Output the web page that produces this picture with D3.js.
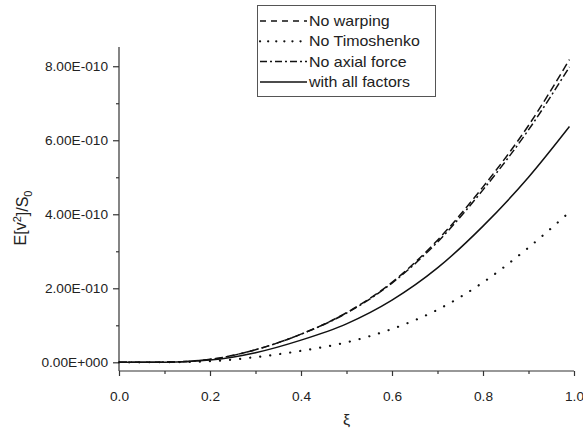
<!DOCTYPE html>
<html>
<head>
<meta charset="utf-8">
<script src="https://cdn.jsdelivr.net/npm/d3@7"></script>
<style>
  body { margin: 0; background: #fff; }
  svg { display: block; font-family: "Liberation Sans", Arial, sans-serif; }
</style>
</head>
<body>
<svg id="chart" width="583" height="438"></svg>
<script>
// ---- data (values in units of 1e-10) ----
const xi = [0, 0.1, 0.2, 0.3, 0.4, 0.5, 0.6, 0.7, 0.8, 0.9, 0.99];
const noWarping     = [0, 0.005, 0.08, 0.34, 0.76, 1.34, 2.16, 3.30, 4.74, 6.40, 8.18];
const noTimoshenko  = [0, 0.002, 0.03, 0.14, 0.31, 0.54, 0.90, 1.42, 2.16, 3.10, 4.06];
const noAxialForce  = [0, 0.005, 0.08, 0.34, 0.76, 1.33, 2.14, 3.25, 4.66, 6.28, 7.98];
const withAll       = [0, 0.004, 0.06, 0.26, 0.60, 1.04, 1.68, 2.55, 3.68, 5.00, 6.37];
const seriesNames   = ["No warping", "No Timoshenko", "No axial force", "with all factors"];
const xTicks        = [0, 0.2, 0.4, 0.6, 0.8, 1.0];
const xTickLabels   = ["0.0", "0.2", "0.4", "0.6", "0.8", "1.0"];
const yTicks        = [0, 2, 4, 6, 8];
const yTickLabels   = ["0.00E+000", "2.00E-010", "4.00E-010", "6.00E-010", "8.00E-010"];
const xLabel = "ξ";

// ---- layout ----
const svg = d3.select("#chart");
const pL = 119, pR = 574, pT = 47, pB = 371;
const SX = 1.14; // horizontal text stretch seen in the original
const x = d3.scaleLinear().domain([0, 1]).range([pL, pR]);
const y = d3.scaleLinear().domain([-0.235, 8.52]).range([pB, pT]);

// minor ticks
svg.append("g").attr("transform", `translate(0,${pB})`)
  .call(d3.axisBottom(x).tickValues([0.1, 0.3, 0.5, 0.7, 0.9]).tickSize(3).tickFormat(""))
  .call(g => g.select(".domain").remove());
svg.append("g").attr("transform", `translate(${pL},0)`)
  .call(d3.axisLeft(y).tickValues([1, 3, 5, 7]).tickSize(3).tickFormat(""))
  .call(g => g.select(".domain").remove());

// major axes
const xAxis = svg.append("g").attr("transform", `translate(0,${pB})`)
  .call(d3.axisBottom(x).tickValues(xTicks).tickSize(5).tickSizeOuter(0)
    .tickFormat((d, i) => xTickLabels[i]));
xAxis.selectAll("text").attr("y", null).attr("dy", null)
  .attr("transform", `translate(0,30) scale(${SX},1)`)
  .style("font-size", "12px").attr("fill", "#222");

const yAxis = svg.append("g").attr("transform", `translate(${pL},0)`)
  .call(d3.axisLeft(y).tickValues(yTicks).tickSize(6).tickSizeOuter(0)
    .tickFormat((d, i) => yTickLabels[i]));
yAxis.selectAll("text").attr("x", null)
  .attr("transform", `translate(-11,0) scale(${SX},1)`)
  .style("font-size", "12px").attr("fill", "#222");
yAxis.select(".domain").attr("d", `M0,${pT}V${pB}`);
xAxis.select(".domain").attr("d", `M${pL},0H${pR}`);
svg.selectAll(".domain, .tick line").attr("stroke", "#333").attr("stroke-width", 1.2);

// axis titles
svg.append("text")
  .attr("transform", `translate(${(pL + pR) / 2},425) scale(${SX},1)`)
  .attr("text-anchor", "middle").style("font-size", "14px").attr("fill", "#222")
  .text(xLabel);

const yl = svg.append("text")
  .attr("transform", `translate(26,218) rotate(-90)`)
  .attr("text-anchor", "middle").style("font-size", "16px").attr("fill", "#222");
yl.append("tspan").text("E[v");
yl.append("tspan").attr("dy", "-0.45em").style("font-size", "11px").text("2");
yl.append("tspan").attr("dy", "0.45em").text("]/S");
yl.append("tspan").attr("dy", "0.3em").style("font-size", "11px").text("0");

// lines
const styles = [
  { vals: noWarping,    dash: "8,4",        width: 1.5, cap: "butt" },
  { vals: noTimoshenko, dash: "0.1,10",     width: 2.2, cap: "round" },
  { vals: noAxialForce, dash: "8,3,2,3",    width: 1.5, cap: "butt" },
  { vals: withAll,      dash: null,         width: 1.5, cap: "butt" }
];
const line = d3.line().x((d, i) => x(xi[i])).y(d => y(d)).curve(d3.curveMonotoneX);
styles.forEach(s => {
  svg.append("path").datum(s.vals)
    .attr("d", line)
    .attr("fill", "none").attr("stroke", "#111")
    .attr("stroke-width", s.width)
    .attr("stroke-linecap", s.cap)
    .attr("stroke-dasharray", s.dash);
});

// legend
const lg = svg.append("g");
lg.append("rect").attr("x", 257.5).attr("y", 5.5).attr("width", 178).attr("height", 91)
  .attr("fill", "#fff").attr("stroke", "#555").attr("stroke-width", 1);
const legendDash = ["6,5", "0.1,8", "7,3,2,3", null];
seriesNames.forEach((name, i) => {
  const cy = 21 + i * 20.3;
  lg.append("line").attr("x1", 260).attr("x2", 307).attr("y1", cy).attr("y2", cy)
    .attr("stroke", "#111").attr("stroke-width", styles[i].width)
    .attr("stroke-linecap", styles[i].cap)
    .attr("stroke-dasharray", legendDash[i]);
  lg.append("text")
    .attr("transform", `translate(309,${cy}) scale(${SX},1)`)
    .attr("dy", "0.35em").style("font-size", "14px").attr("fill", "#222")
    .text(name);
});
</script>
</body>
</html>
